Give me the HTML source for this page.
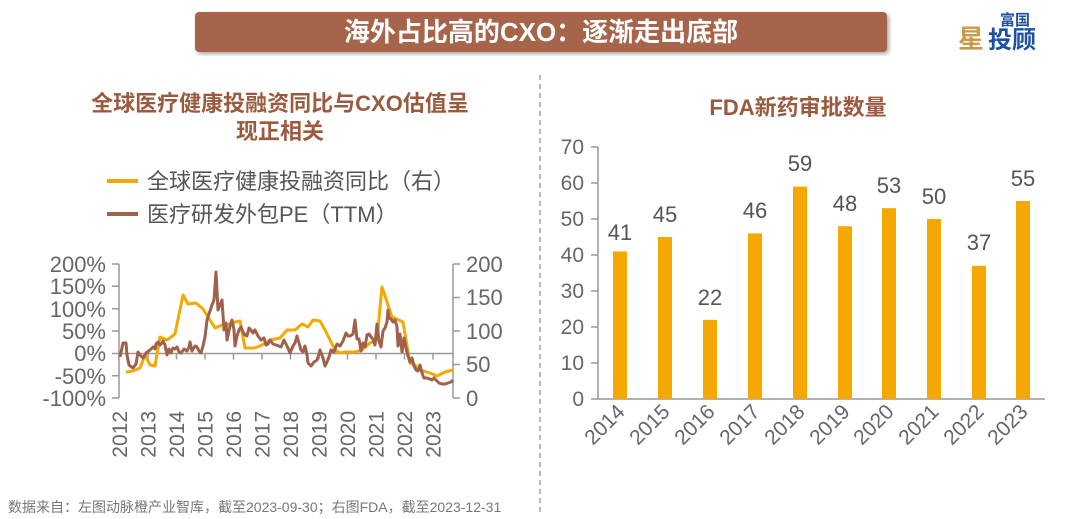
<!DOCTYPE html>
<html><head><meta charset="utf-8"><style>
body{margin:0;width:1080px;height:514px;background:#fff;overflow:hidden;font-family:"Liberation Sans","Noto Sans CJK SC",sans-serif;}
</style></head><body>
<svg width="1080" height="514" xmlns="http://www.w3.org/2000/svg" font-family="Liberation Sans, Noto Sans CJK SC, sans-serif">
<defs><filter id="sh"><feDropShadow dx="2" dy="2" stdDeviation="2" flood-color="#000" flood-opacity="0.35"/></filter></defs>
<rect x="195" y="12" width="692" height="40" rx="4" fill="#a6654c" filter="url(#sh)"/>
<text x="541" y="41" text-anchor="middle" fill="#fff" font-size="26" font-weight="bold">海外占比高的CXO：逐渐走出底部</text>
<text x="1000" y="25" fill="#1e4fa0" font-size="15" font-weight="bold">富国</text>
<text x="988" y="48" fill="#1e4fa0" font-size="24" font-weight="bold">投顾</text>
<text x="958" y="48" fill="#c99a4a" font-size="26" font-weight="bold">星</text>
<line x1="540" y1="75" x2="540" y2="514" stroke="#bbb" stroke-width="2" stroke-dasharray="5,4"/>
<text x="280" y="111" text-anchor="middle" fill="#9a5a3e" font-size="22" font-weight="bold">全球医疗健康投融资同比与CXO估值呈</text>
<text x="280" y="139" text-anchor="middle" fill="#9a5a3e" font-size="22" font-weight="bold">现正相关</text>
<line x1="107" y1="181" x2="138" y2="181" stroke="#f5a800" stroke-width="4"/>
<text x="147" y="189" fill="#555" font-size="22">全球医疗健康投融资同比（右）</text>
<line x1="107" y1="214" x2="138" y2="214" stroke="#a0604a" stroke-width="4"/>
<text x="147" y="222" fill="#555" font-size="22">医疗研发外包PE（TTM）</text>
<g stroke="#999" stroke-width="1.5" fill="none">
<line x1="119" y1="264" x2="119" y2="398"/><line x1="453" y1="264" x2="453" y2="398"/>
<line x1="119" y1="353.5" x2="453" y2="353.5"/>
<path d="M112 264H119M112 286.3H119M112 308.7H119M112 331H119M112 353.5H119M112 375.8H119M112 398H119"/>
<path d="M453 264H460M453 297.5H460M453 331H460M453 364.5H460M453 398H460"/>
<path d="M148 353.5v6M176.5 353.5v6M205 353.5v6M233.5 353.5v6M262 353.5v6M290.5 353.5v6M319 353.5v6M347.5 353.5v6M376 353.5v6M404.5 353.5v6M433 353.5v6"/>
</g>
<g fill="#666" font-size="22" text-anchor="end">
<text x="106" y="272">200%</text><text x="106" y="294">150%</text><text x="106" y="317">100%</text><text x="106" y="339">50%</text><text x="106" y="361">0%</text><text x="106" y="384">-50%</text><text x="106" y="406">-100%</text>
</g>
<g fill="#666" font-size="22">
<text x="466" y="272">200</text><text x="466" y="305">150</text><text x="466" y="339">100</text><text x="466" y="372">50</text><text x="466" y="406">0</text>
</g>
<g fill="#666" font-size="21" text-anchor="end">
<text transform="translate(127,411) rotate(-90)">2012</text><text transform="translate(155.5,411) rotate(-90)">2013</text><text transform="translate(184,411) rotate(-90)">2014</text><text transform="translate(212.5,411) rotate(-90)">2015</text><text transform="translate(241,411) rotate(-90)">2016</text><text transform="translate(269.5,411) rotate(-90)">2017</text><text transform="translate(298,411) rotate(-90)">2018</text><text transform="translate(326.5,411) rotate(-90)">2019</text><text transform="translate(355,411) rotate(-90)">2020</text><text transform="translate(383.5,411) rotate(-90)">2021</text><text transform="translate(412,411) rotate(-90)">2022</text><text transform="translate(440.5,411) rotate(-90)">2023</text>
</g>
<polyline fill="none" stroke="#f5a800" stroke-width="3" stroke-linejoin="round" points="126,372 133,371 140,368 145,355 150,365 155,366 160,337 167,340 175,334 183,295 188,304 196,303 203,309 210,320 215,328 222,325 230,324 235,322 240,321 245,348 255,348 262,345 270,340 280,338 287,330 295,330 302,324 308,327 313,320 320,321 325,330 330,340 335,350 340,353 345,352 355,352 362,350 370,343 377,340 382,287 392,317 403,322 410,363 415,365 420,370 430,373 437,376 445,372 453,370"/>
<polyline fill="none" stroke="#a0604a" stroke-width="3" stroke-linejoin="round" points="120,357 123,343 126,343 127,355 129,365 133,368 136,364 138,352 141,356 143,358 146,353 150,350 153,347 155,349 156,344 158,342 160,345 162,343 163,341 165,345 167,355 169,349 171,353 173,348 175,349 177,347 179,352 181,353 184,349 187,351 189,347 190,342 192,351 195,346 197,347 199,351 201,353 203,346 205,337 207,320 209,314 212,305 214,300 216,272 218,310 220,305 222,300 224,330 226,323 227,340 230,326 232,320 234,330 235,346 237,336 239,330 241,327 243,332 245,335 247,336 249,328 251,330 253,333 255,330 258,336 261,340 264,338 266,345 268,344 270,340 273,344 276,345 279,346 281,347 284,340 288,348 290,353 293,346 295,343 297,336 299,343 301,350 303,352 305,346 307,355 308,363 311,366 314,362 317,360 319,354 320,350 323,358 325,366 327,362 329,357 331,350 334,352 337,344 340,346 343,341 346,333 348,336 350,336 353,334 355,320 357,339 359,339 361,351 363,343 365,347 367,335 369,334 371,337 373,339 375,345 377,324 379,341 381,347 383,331 385,328 387,322 388,310 389,318 391,319 393,322 395,320 397,327 398,346 400,334 402,352 404,338 406,348 408,356 410,362 412,358 414,366 416,370 418,371 420,365 422,373 424,378 427,378 430,379 432,380 434,378 436,380 439,383 442,384 445,384 448,383 451,382 453,380"/>
<text x="798" y="115" text-anchor="middle" fill="#9a5a3e" font-size="22" font-weight="bold">FDA新药审批数量</text>
<g stroke="#999" stroke-width="1.5"><line x1="598" y1="147" x2="598" y2="399"/><line x1="598" y1="399" x2="1045" y2="399"/>
<path d="M591 147H598M591 183H598M591 219H598M591 255H598M591 291H598M591 327H598M591 363H598M591 399H598"/></g>
<g fill="#666" font-size="21" text-anchor="end">
<text x="584" y="154">70</text><text x="584" y="190">60</text><text x="584" y="226">50</text><text x="584" y="262">40</text><text x="584" y="298">30</text><text x="584" y="334">20</text><text x="584" y="370">10</text><text x="584" y="406">0</text></g>
<g fill="#f5a800">
<rect x="613" y="251.4" width="14" height="147.6"/><rect x="658" y="237" width="14" height="162"/><rect x="703" y="319.8" width="14" height="79.2"/><rect x="748" y="233.4" width="14" height="165.6"/><rect x="793" y="186.6" width="14" height="212.4"/><rect x="838" y="226.2" width="14" height="172.8"/><rect x="882" y="208.2" width="14" height="190.8"/><rect x="927" y="219" width="14" height="180"/><rect x="972" y="265.8" width="14" height="133.2"/><rect x="1016" y="201" width="14" height="198"/></g>
<g fill="#555" font-size="22" text-anchor="middle">
<text x="620" y="240">41</text><text x="665" y="222">45</text><text x="710" y="305">22</text><text x="755" y="218">46</text><text x="800" y="171">59</text><text x="845" y="211">48</text><text x="889" y="193">53</text><text x="934" y="204">50</text><text x="979" y="250">37</text><text x="1023" y="186">55</text></g>
<g fill="#666" font-size="21" text-anchor="end">
<text transform="translate(626,413) rotate(-45)">2014</text><text transform="translate(671,413) rotate(-45)">2015</text><text transform="translate(716,413) rotate(-45)">2016</text><text transform="translate(761,413) rotate(-45)">2017</text><text transform="translate(806,413) rotate(-45)">2018</text><text transform="translate(851,413) rotate(-45)">2019</text><text transform="translate(895,413) rotate(-45)">2020</text><text transform="translate(940,413) rotate(-45)">2021</text><text transform="translate(985,413) rotate(-45)">2022</text><text transform="translate(1029,413) rotate(-45)">2023</text></g>
<text x="8" y="512" fill="#777" font-size="14">数据来自：左图动脉橙产业智库，截至2023-09-30；右图FDA，截至2023-12-31</text>
</svg>
</body></html>
